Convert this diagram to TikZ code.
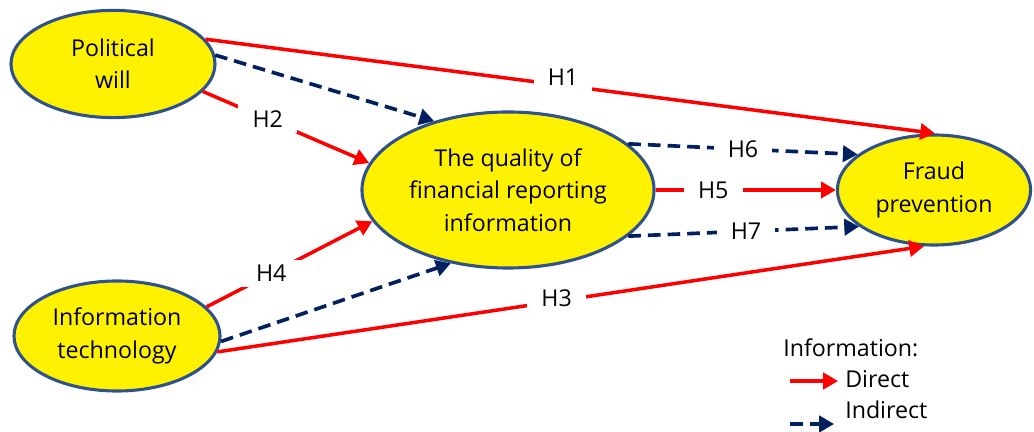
\documentclass[tikz,border=0pt]{standalone}
\usepackage{fontspec}
\setmainfont{Open Sans}
\usetikzlibrary{arrows.meta,shapes.geometric,positioning}
\definecolor{navyline}{HTML}{002060}
\definecolor{rimblue}{HTML}{2F528F}
\tikzset{
    factor/.style = {draw=rimblue, line width=2.2pt, fill=yellow,
        ellipse, align=center, inner sep=0pt},
    direct/.style = {draw=red, line width=2.5pt, -{Triangle[length=10.5pt,width=11.5pt]}},
    indirect/.style = {draw=navyline, line width=2.6pt, dash pattern=on 9pt off 5pt,
        -{Triangle[length=10.5pt,width=11.5pt]}},
    hyp/.style = {fill=white, inner xsep=10pt, inner ysep=4pt}
}

\begin{document}
\begin{tikzpicture}[x=0.025cm, y=-0.025cm, font=\fontsize{16.5}{23}\selectfont]
        \useasboundingbox (0,0) rectangle (1034,432);
        % factors
        \node [factor, minimum width=5.1cm, minimum height=2.68cm] (pw) at (113,64) {Political\\will};
        \node [factor, minimum width=5.15cm, minimum height=2.75cm] (it) at (117,336) {Information\\technology};
        \node [factor, minimum width=7.3cm, minimum height=3.9cm] (qfr) at (508,190) {The quality of\\financial reporting\\information};
        \node [factor, minimum width=4.83cm, minimum height=2.75cm] (fp) at (934,190) {Fraud\\prevention};
        % direct paths
        \draw [direct] (pw.15) -- node [hyp, pos=0.49, yshift=6pt] {H1} (fp.89);
        \draw [direct] (pw.-17) -- node [hyp, pos=0.39] {H2} (qfr.169);
        \draw [direct] (it.-9) -- node [hyp, pos=0.48, yshift=2pt] {H3} (fp.260);
        \draw [direct] (it.18) -- node [hyp, pos=0.39] {H4} (qfr.193);
        \draw [direct] (qfr.east) -- node [hyp, pos=0.32] {H5} (fp.west);
        % indirect paths
        \draw [indirect] (pw.5) -- (qfr.137);
        \draw [indirect] (it.-3) -- (qfr.232);
        \draw [indirect] (qfr.21) -- node [hyp, pos=0.5] {H6} (fp.155);
        \draw [indirect] (qfr.339) -- node [hyp, pos=0.51] {H7} (fp.206);
        % legend
        \node [anchor=west, inner sep=0pt] (legend) at (783,348) {Information:};
        \coordinate (d0) at (790,381);
        \coordinate (d1) at (838,381);
        \draw [direct] (d0) -- (d1);
        \node [anchor=west, inner sep=0pt] (dlabel) at (845,379) {Direct};
        \coordinate (i0) at (790,424);
        \coordinate (i1) at (834,424);
        \draw [indirect] (i0) -- (i1);
        \node [anchor=west, inner sep=0pt] (ilabel) at (845,410) {Indirect};
\end{tikzpicture}
\end{document}
